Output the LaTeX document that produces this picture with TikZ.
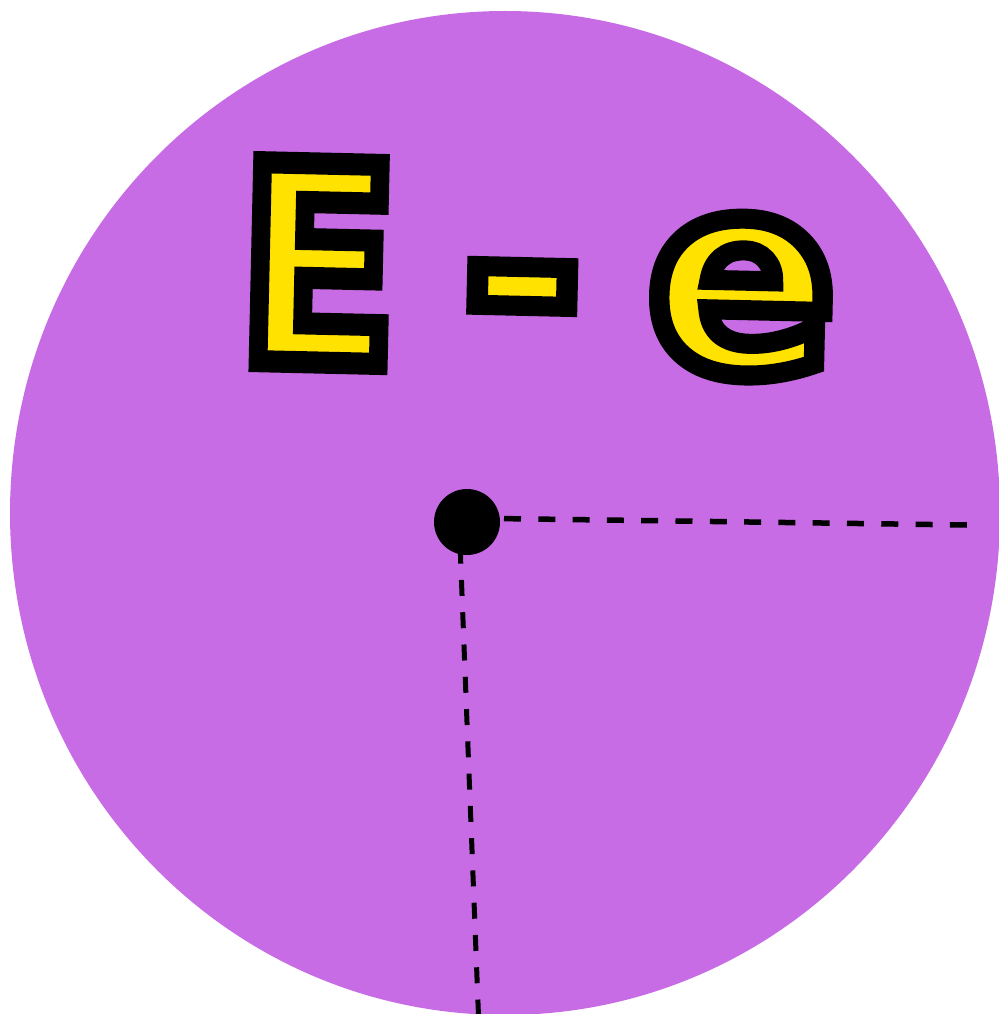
\documentclass[tikz,border=0pt]{standalone}
\usepackage{fontspec}
\newfontfamily\glyphfont{DejaVu Sans Bold}
\definecolor{discpurple}{RGB}{200,108,230}
\definecolor{glyphyellow}{RGB}{255,226,0}
\newcommand\strokedglyph[2]{\special{pdf:literal direct 2 Tr #1 w 0 0 0 RG 0 j 0 J 10 M}#2\special{pdf:literal direct 0 Tr}}
\begin{document}
\begin{tikzpicture}[x=1pt,y=-1pt,
  glyph/.style={inner sep=0pt, outer sep=0pt, anchor=base, rotate=-1.3, text=glyphyellow,
    font=\glyphfont\fontsize{273}{273}\selectfont},
  dashline/.style={line width=5.5pt, black},
  dotstyle/.style={circle, fill=black, inner sep=0pt, minimum size=66pt}]
\useasboundingbox (0,0) rectangle (998,1014);
\fill[discpurple] (505,513) ellipse [x radius=495, y radius=502];
\node[glyph, xscale=0.85] (bigE) at (316,362.5) {\strokedglyph{22}{E}};
\node[glyph, xscale=1.07] (minus) at (520.5,365) {\strokedglyph{20}{-}};
\node[glyph, xscale=1.02] (smalle) at (740,371.5) {\strokedglyph{20}{e}};
% radius lines
\coordinate (corner) at (459,518);
\coordinate (hend) at (967,525);
\coordinate (vend) at (478.5,1016);
\draw[dashline, dash pattern=on 17pt off 17.3pt, dash phase=23.6pt] (corner) -- (hend);
\draw[dashline, line width=5pt, dash pattern=on 16pt off 16.3pt, dash phase=2.6pt] (corner) -- (vend);
\node[dotstyle] (centre) at (467,522) {};
\end{tikzpicture}
\end{document}
